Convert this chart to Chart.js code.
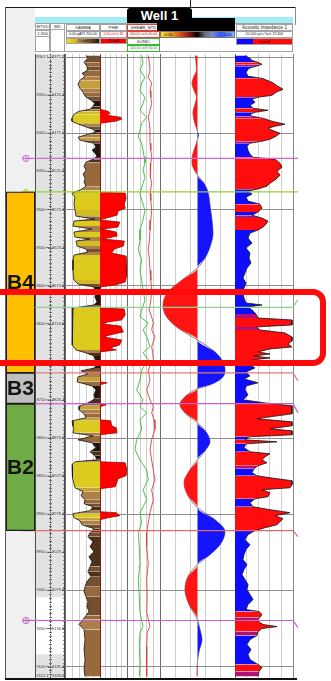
<!DOCTYPE html>
<html>
<head>
<meta charset="utf-8">
<title>Well 1</title>
<script src="https://cdn.jsdelivr.net/npm/chart.js@4.4.1/dist/chart.umd.min.js"></script>
<style>
  html, body { margin:0; padding:0; background:#fff; }
  body { width:331px; height:681px; overflow:hidden; font-family:"Liberation Sans", Arial, sans-serif; }
  #page { position:relative; width:331px; height:681px; overflow:hidden; }
  .abs { position:absolute; box-sizing:border-box; }
  .hd { position:absolute; box-sizing:border-box; border:1px solid #a3a3a3; background:#fff; font-size:4.2px; line-height:5px; text-align:center; color:#222; white-space:nowrap; overflow:hidden; }
  .track { position:absolute; }
  .track canvas { display:block; }
</style>
</head>
<body>
<div id="page">
  <!-- outer frame -->
  <div class="abs" style="left:5px;top:8px;width:30px;height:671px;background:#f0f0f0;"></div>
  <div class="abs" style="left:5px;top:7px;width:291px;height:1px;background:#1a1a1a;"></div>
  <div class="abs" style="left:190px;top:0;width:1px;height:8px;background:#1a1a1a;"></div>
  <div class="abs" style="left:5px;top:7px;width:1px;height:672px;background:#5a5a5a;"></div>
  <div class="abs" style="left:295px;top:7px;width:1px;height:18px;background:#8a8a8a;"></div>

  <!-- track headers -->
  <div class="abs" style="left:35px;top:17px;width:258px;height:6px;background:#a3ebf5;"></div>
  <div class="abs" style="left:35px;top:23px;width:258px;height:29px;border:1px solid #a3a3a3;background:#fff;"></div>

  <div class="hd" style="left:35px;top:23px;width:15px;height:29px;"></div>
  <div class="hd" style="left:35px;top:23px;width:15px;height:7px;">MTVD</div>
  <div class="hd" style="left:35px;top:30px;width:15px;height:7px;">1:200</div>
  <div class="hd" style="left:50px;top:23px;width:15px;height:29px;"></div>
  <div class="hd" style="left:50px;top:23px;width:15px;height:7px;">MD</div>

  <div class="hd" style="left:66px;top:24px;width:34px;height:7px;">GAMMA</div>
  <div class="hd" style="left:66px;top:31px;width:34px;height:7px;font-size:3.6px;">0.00 gAPI 250.00</div>
  <div class="hd" style="left:66px;top:38px;width:34px;height:6px;line-height:4px;background:linear-gradient(90deg,#f3e400 0%,#dcc020 22%,#b68a3c 45%,#7a4c22 70%,#2a1608 100%);">Cutoff</div>

  <div class="hd" style="left:100px;top:24px;width:27px;height:7px;">PHIE</div>
  <div class="hd" style="left:100px;top:31px;width:27px;height:7px;font-size:3.4px;color:#d20000;">0.00 v/v 0.30</div>
  <div class="hd" style="left:100px;top:38px;width:27px;height:6px;line-height:4px;background:#ff0000;color:#400;">Cutoff</div>

  <div class="hd" style="left:127px;top:24px;width:33px;height:7px;border-color:#e04040;">SHEAR_SPD</div>
  <div class="hd" style="left:127px;top:31px;width:33px;height:7px;border-color:#e04040;font-size:3.4px;color:#d20000;">400.00 us/ft 40.00</div>
  <div class="hd" style="left:127px;top:38px;width:33px;height:7px;border-color:#3cb43c;">SONIC</div>
  <div class="hd" style="left:127px;top:45px;width:33px;height:7px;border-color:#3cb43c;font-size:3.4px;color:#1a8a1a;">140.00 us/ft 40.00</div>

  <div class="abs" style="left:157px;top:18px;width:78px;height:13px;background:#000;"></div>
  <div class="hd" style="left:160px;top:31px;width:75px;height:7px;border-color:#777;background:linear-gradient(90deg,#f4e21a 0%,#eea21e 14%,#d2521a 27%,#7a1410 40%,#000 50%,#6a6a6a 60%,#7a8ccc 70%,#2f56ff 82%,#8fb4ff 100%);">
    <span style="position:absolute;left:2px;top:0;">-0.30</span><span style="position:absolute;right:2px;top:0;">0.30</span>
  </div>

  <div class="hd" style="left:236px;top:24px;width:57px;height:7px;font-size:4.6px;">Acoustic impedance 1</div>
  <div class="hd" style="left:236px;top:31px;width:57px;height:7px;font-size:3.6px;">20,000 g/cc*m/s 37,400</div>
  <div class="hd" style="left:236px;top:38px;width:57px;height:7px;background:linear-gradient(90deg,#0a0aff 0 30%,#ff0a0a 30% 100%);color:#300;">Cutoff</div>

  <div class="abs" style="left:127px;top:8px;width:65px;height:15px;background:#000;border-radius:3px 3px 0 0;color:#fff;font-weight:bold;font-size:13px;line-height:15px;text-align:center;">Well 1</div>

  <div id="tracks"></div>

  <div class="abs" style="left:5px;top:678px;width:292px;height:2px;background:#111;"></div>
  <div class="abs" style="left:-20px;top:289px;width:346px;height:77px;border:6px solid #ff0a0a;border-radius:13px;"></div>
</div>

<script>
// ---------------- log data (depth in ft TVD) ----------------
const depthRange = [8296, 9115];
const depthGridLines = [8300, 8400, 8500, 8600, 8700, 8800, 8900, 9000, 9100];

const zoneNames = ['B4', 'B3', 'B2'];
const zoneIntervals = [[8477, 8714.5], [8714.5, 8755], [8755, 8921.6]];

const horizonDepths = [8433, 8477, 8628.5, 8714.5, 8755, 8921.6, 9039.5];
const horizonNextWell = [8433, 8477, 8618, 8725, 8767, 8929.5, 9049];

const depthLabelTicks = [8350, 8400, 8450, 8500, 8550, 8600, 8650, 8700, 8750, 8800, 8850, 8900, 8950, 9000, 9050, 9100];
const mdLabels = ['8420.3', '8471.0', '8521.6', '8572.4', '8623.1', '8673.9', '8724.6', '8775.4', '8826.1', '8876.9', '8927.6', '8978.4', '9029.1', '9079.9', '9130.6', '9181.4'];
const depthEndLabels = [['8301.1', '8371.7'], ['9112.3', '9183.0']];
const depthShading = [[8296, 9009], [9084, 9115]];

// gamma ray, gAPI
const gammaRay = [[8298,150],[8301.7,164],[8306.9,136],[8312.2,157],[8317.4,164],[8321.4,121],[8325.3,143],[8330.5,107],[8335.8,93],[8341,107],[8346.3,129],[8351.5,143],[8356.8,186],[8360.7,214],[8364.6,200],[8368.5,179],[8371.2,100],[8375.1,64],[8380.3,50],[8384.3,50],[8386.9,79],[8390.8,136],[8394.8,200],[8398.7,221],[8401.3,164],[8405.2,93],[8409.2,107],[8413.1,207],[8418.3,221],[8422.3,193],[8426.2,214],[8430.1,229],[8434.1,200],[8438,150],[8443.2,136],[8448.5,150],[8453.7,129],[8459,143],[8464.2,136],[8469.5,150],[8474.7,107],[8478.6,50],[8483.9,71],[8491.7,64],[8500.9,71],[8508.8,79],[8512.7,214],[8515.3,64],[8521.9,57],[8525.8,193],[8529.7,64],[8536.3,71],[8538.9,179],[8541.5,79],[8548.1,86],[8552,150],[8556,164],[8559.9,64],[8566.4,57],[8579.6,57],[8592.7,64],[8597.9,93],[8601.8,207],[8608.4,221],[8614.9,214],[8621.5,229],[8625.4,207],[8629.4,57],[8638.5,50],[8651.6,50],[8664.7,57],[8677.8,50],[8684.4,79],[8688.3,150],[8692.3,207],[8700.1,221],[8708,214],[8711.9,114],[8715.9,164],[8719.8,93],[8726.3,86],[8731.6,193],[8736.8,221],[8743.4,207],[8748.6,214],[8753.9,164],[8757.8,107],[8763,100],[8768.3,136],[8773.5,150],[8777.5,50],[8784,57],[8787.9,64],[8793.2,57],[8797.1,200],[8802.4,93],[8806.3,193],[8812.9,221],[8818.1,179],[8823.3,214],[8828.6,229],[8831.2,71],[8835.1,50],[8844.3,50],[8852.2,57],[8860,64],[8865.3,71],[8870.5,129],[8875.7,114],[8881,143],[8886.2,136],[8890.2,200],[8895.4,179],[8899.3,57],[8904.6,64],[8908.5,107],[8913.8,121],[8919,207],[8924.2,179],[8929.5,164],[8936.1,200],[8942.6,179],[8949.2,207],[8955.7,171],[8962.3,193],[8968.8,179],[8975.4,164],[8982,186],[8988.5,157],[8995.1,143],[9001.6,136],[9008.2,150],[9014.7,164],[9021.3,157],[9027.8,171],[9033.1,150],[9038.3,129],[9044.8,100],[9051.4,136],[9064.5,143],[9077.6,136],[9090.7,143],[9103.8,136],[9113,143]];

// effective porosity, v/v
const phie = [[8298,0],[8368.5,0],[8371.2,0.09],[8373.8,0.11],[8376.4,0.08],[8379,0.23],[8381.7,0.24],[8384.3,0.17],[8386.9,0],[8477.3,0],[8478.6,0.28],[8485.2,0.29],[8493.1,0.27],[8498.3,0.28],[8502.2,0.2],[8507.5,0.19],[8511.4,0.07],[8514,0],[8516.6,0.22],[8523.2,0.2],[8525.8,0.02],[8529.7,0.18],[8535,0.19],[8538.9,0.03],[8541.5,0.27],[8548.1,0.26],[8552,0.16],[8557.3,0.13],[8561.2,0.29],[8573,0.3],[8586.1,0.3],[8595.3,0.28],[8599.2,0.17],[8601.8,0],[8629.4,0],[8630.7,0.27],[8638.5,0.28],[8645.1,0.24],[8647.7,0.09],[8650.3,0.03],[8653,0.23],[8660.8,0.26],[8664.7,0.11],[8667.4,0.04],[8671.3,0.24],[8677.8,0.22],[8681.8,0.11],[8684.4,0.18],[8687,0],[8726.3,0],[8727.6,0.08],[8730.2,0],[8755.1,0],[8756.5,0.07],[8759.1,0],[8776.2,0],[8777.5,0.12],[8784,0.13],[8786.7,0.18],[8793.2,0.19],[8795.8,0],[8831.2,0],[8832.5,0.28],[8841.7,0.3],[8849.5,0.29],[8853.5,0.2],[8857.4,0.19],[8864,0.17],[8866.6,0],[8896.7,0],[8898,0.18],[8902,0.22],[8904.6,0.09],[8907.2,0],[9113,0]];

// compressional slowness (SONIC), us/ft
const sonic = [[8298,95.5],[8308,91.5],[8317,100.6],[8327,85.5],[8334,95.5],[8344,100.6],[8353,85.5],[8361,91.5],[8370,100.6],[8379,80.3],[8387,95.5],[8396,100.6],[8405,105.8],[8413,95.5],[8422,91.5],[8431,88],[8439,85.5],[8448,91.5],[8458,85.5],[8466,91.5],[8479,100.6],[8488,95.5],[8501,85.5],[8514,91.5],[8527,100.6],[8540,100.6],[8553,105.8],[8566,95.5],[8580,100.6],[8593,95.5],[8606,91.5],[8619,85.5],[8632,95.5],[8641,100.6],[8649,75.5],[8658,91.5],[8667,80.3],[8680,70.3],[8688,91.5],[8697,75.5],[8711,95.5],[8724,100.6],[8737,110.6],[8750,91.5],[8759,100.6],[8767,80.3],[8776,100.6],[8789,95.5],[8802,110.6],[8815,115.8],[8829,100.6],[8842,80.3],[8855,75.5],[8868,91.5],[8881,80.3],[8898,100.6],[8911,95.5],[8924,105.8],[8943,102.7],[8964,100.6],[8986,105.8],[9008,102.7],[9029,100.6],[9047,91.5],[9055,100.6],[9074,102.7],[9095,100.6],[9113,102.7]];

// shear slowness (SHEAR_SPD), us/ft
const shear = [[8298,168],[8308,155],[8317,149],[8327,168],[8334,131],[8344,149],[8353,140],[8361,131],[8370,150],[8379,168],[8387,155],[8396,149],[8405,150],[8413,149],[8422,140],[8431,131],[8439,140],[8448,149],[8458,140],[8466,131],[8479,149],[8488,140],[8501,131],[8514,140],[8527,149],[8540,155],[8553,168],[8566,155],[8580,149],[8593,140],[8606,131],[8619,140],[8632,157],[8641,131],[8649,113],[8658,131],[8667,95],[8680,131],[8688,120],[8697,113],[8711,168],[8724,149],[8737,185],[8750,149],[8759,113],[8767,131],[8776,105],[8789,95],[8802,131],[8815,149],[8829,131],[8842,113],[8855,95],[8868,131],[8881,113],[8898,149],[8911,168],[8924,185],[8943,185],[8964,168],[8986,185],[9008,179],[9029,185],[9047,149],[9055,179],[9074,185],[9095,185],[9113,185]];

// synthetic seismic trace amplitude
const seismicTrace = [[8298,-0.016],[8306.9,-0.012],[8317.4,-0.008],[8325.3,-0.028],[8334.5,-0.044],[8343.6,-0.028],[8352.8,-0.008],[8362,-0.02],[8372.5,-0.036],[8383,-0.028],[8393.4,-0.008],[8397.4,0],[8402.6,0.008],[8407.9,0],[8418.3,-0.02],[8428.8,-0.04],[8439.3,-0.044],[8448.5,-0.024],[8455,0],[8465.5,0.052],[8477.3,0.084],[8494.4,0.1],[8514,0.116],[8531.1,0.124],[8549.4,0.1],[8563.8,0.06],[8576.9,0],[8592.7,-0.124],[8608.4,-0.236],[8625.4,-0.276],[8639.8,-0.252],[8655.6,-0.156],[8671.3,0],[8687,0.14],[8700.1,0.204],[8710.6,0.22],[8721.1,0.196],[8730.2,0.1],[8735.5,0],[8744.7,-0.092],[8756.5,-0.14],[8768.3,-0.092],[8780.1,0],[8791.9,0.068],[8805,0.1],[8816.8,0.06],[8828.6,0],[8841.7,-0.06],[8858.7,-0.108],[8875.7,-0.076],[8891.5,0],[8907.2,0.14],[8922.9,0.22],[8940,0.18],[8953.1,0.1],[8966.2,0],[8981.9,-0.076],[8998.9,-0.1],[9018.6,-0.068],[9038.3,0],[9051.4,0.02],[9064.5,0.036],[9080.3,0.012],[9094.7,0],[9103.8,-0.004],[9113,-0.004]];

// acoustic impedance, g/cc*m/s
const impedance = [[8298,23000],[8301.7,24500],[8304.4,25100],[8306.9,26900],[8309.6,28100],[8312.2,26300],[8314.8,24200],[8320,23300],[8325.3,23900],[8327.9,28100],[8333.2,31100],[8338.4,32900],[8342.3,34400],[8346.3,32300],[8350.2,31100],[8352.8,26900],[8355.4,25100],[8359.4,26000],[8363.3,24500],[8367.2,25400],[8369.9,29900],[8372.5,26000],[8375.1,24500],[8377.7,25100],[8380.3,28400],[8384.3,31100],[8388.2,35000],[8390.8,32000],[8393.4,29900],[8396.1,31100],[8400,33500],[8403.9,32300],[8407.9,30500],[8410.5,28100],[8413.1,24500],[8417,23600],[8422.3,23900],[8427.5,24500],[8431.5,25400],[8434.1,32000],[8439.3,33500],[8444.6,34100],[8449.8,32600],[8455,33500],[8460.3,32300],[8465.5,30500],[8469.5,29600],[8473.4,26600],[8476,23900],[8479.9,25100],[8483.9,23300],[8489.1,23900],[8493.1,27500],[8498.3,28100],[8503.5,26900],[8507.5,25100],[8511.4,28100],[8515.3,29900],[8519.3,29300],[8523.2,28400],[8527.1,26900],[8531.1,24500],[8537.6,23900],[8544.2,25100],[8550.7,23300],[8557.3,24500],[8563.8,24200],[8570.4,24800],[8576.9,23600],[8583.5,23000],[8590,22400],[8596.6,23300],[8603.1,22700],[8609.7,22400],[8616.2,22700],[8622.8,23300],[8625.4,28100],[8628,23900],[8632,25100],[8637.2,26300],[8642.5,26900],[8645.1,37100],[8651.6,37100],[8654.3,26300],[8658.2,27500],[8662.1,35000],[8667.4,37100],[8672.6,37100],[8676.6,35900],[8680.5,37100],[8683.1,30500],[8687,26900],[8689.7,30500],[8692.3,25700],[8694.9,30500],[8697.5,25100],[8702.8,23900],[8708,26000],[8713.3,23300],[8718.5,24500],[8722.4,22700],[8727.6,26900],[8731.6,23300],[8736.8,23000],[8743.4,23900],[8749.9,22400],[8753.9,29000],[8757.8,37100],[8763,37100],[8768.3,37100],[8772.2,30500],[8774.8,26600],[8778.8,37100],[8784,37100],[8787.9,30500],[8790.6,37100],[8795.8,37100],[8798.4,24500],[8802.4,23000],[8805,32600],[8807.7,23300],[8812.9,22700],[8818.1,24500],[8820.7,30500],[8824.7,29000],[8828.6,28100],[8832.5,29600],[8836.4,26900],[8840.4,25700],[8845.6,25100],[8849.5,26600],[8852.2,30500],[8856.1,37100],[8861.3,37100],[8865.3,36500],[8867.9,28100],[8871.8,30500],[8877.1,29900],[8879.7,26000],[8884.9,24500],[8890.2,25400],[8894.1,30500],[8898,36500],[8902,32000],[8905.9,34400],[8909.8,33500],[8913.8,32600],[8917.7,29000],[8921.6,26000],[8926.8,23900],[8933.4,23000],[8940,24500],[8946.5,23300],[8953.1,22700],[8959.6,22400],[8966.2,23600],[8972.7,22700],[8979.3,22100],[8985.8,23000],[8992.4,23900],[8998.9,23600],[9005.5,24500],[9012,25400],[9018.6,23900],[9025.1,23300],[9027.8,27200],[9031.7,28100],[9035.6,27500],[9039.5,26600],[9044.8,28400],[9047.5,32600],[9050.1,28100],[9054,26900],[9059.3,26600],[9064.5,24500],[9071.1,23600],[9077.6,24800],[9084.2,23900],[9090.7,24500],[9097.3,26900],[9101.2,28100],[9106.4,27200],[9113,26900]];

// ---------------- styling ----------------
const zoneColors = ['#ffbf00', '#bfbfbf', '#6fac46'];
const horizonColors = ['#cf68cf', '#9acd32', '#92cf92', '#e07c7c', '#c95fc9', '#e06a6a', '#c95fc9'];
const horizonMarkers = [true, true, false, false, false, false, true];

Chart.defaults.font.family = '"Liberation Sans", Arial, sans-serif';

function gammaFill(v) {
  if (v < 68) return '#dccb1e';
  if (v < 85) return '#d2bb28';
  if (v < 105) return '#c6a03a';
  if (v < 130) return '#ad8048';
  if (v < 150) return '#966a3d';
  if (v < 175) return '#74502e';
  if (v < 200) return '#4a311b';
  return '#22160a';
}
function impedanceFill(v) {
  if (v < 26300) return '#0c0cff';
  if (v < 27300) return '#b01276';
  return '#ff0c0c';
}

const TOP = 54, HEIGHT = 624;
function mount(left, width) {
  const wrap = document.createElement('div');
  wrap.className = 'track';
  wrap.style.cssText = `left:${left}px;top:${TOP}px;width:${width}px;height:${HEIGHT}px;`;
  const cv = document.createElement('canvas');
  cv.width = width; cv.height = HEIGHT;
  cv.style.width = width + 'px'; cv.style.height = HEIGHT + 'px';
  wrap.appendChild(cv);
  document.getElementById('tracks').appendChild(wrap);
  return cv;
}

const near = (a, b) => Math.abs(a - b) < 1e-9;

function depthScale(show) {
  return {
    type: 'linear', position: 'left', reverse: true,
    min: depthRange[0], max: depthRange[1],
    display: show,
    ticks: {display: false},
    border: {display: false},
    grid: {drawTicks: false, color: '#8e8e8e', lineWidth: 1},
    afterBuildTicks: s => { s.ticks = depthGridLines.map(value => ({value})); }
  };
}

function trackScale(min, max, reverse, rightEdge) {
  const leftV = reverse ? max : min, rightV = reverse ? min : max;
  return {
    type: 'linear', position: 'top', min, max, reverse,
    ticks: {display: false},
    border: {display: false},
    grid: {
      drawTicks: false, lineWidth: 1,
      color: c => {
        const v = c.tick ? c.tick.value : NaN;
        if (near(v, leftV)) return '#6c6c6c';
        if (near(v, rightV)) return rightEdge ? '#8a8a8a' : 'rgba(0,0,0,0)';
        return '#cfcfcf';
      }
    },
    afterBuildTicks: s => {
      const n = 5;
      s.ticks = Array.from({length: n + 1}, (_, k) => ({value: min + (max - min) * k / n}));
    }
  };
}

// formation tops drawn across a track
const horizonPlugin = {
  id: 'horizons',
  afterDatasetsDraw(chart, args, opts) {
    const {ctx, chartArea: a} = chart;
    const y = chart.scales.y;
    ctx.save();
    ctx.lineWidth = 1.2;
    horizonDepths.forEach((d, i) => {
      const py = y.getPixelForValue(d);
      ctx.strokeStyle = horizonColors[i];
      ctx.beginPath();
      ctx.moveTo(a.left, py);
      ctx.lineTo(a.right, py);
      if (opts.outlet) ctx.lineTo(a.right + opts.outlet, y.getPixelForValue(horizonNextWell[i]));
      ctx.stroke();
    });
    ctx.restore();
  }
};

// zone column: tops with markers beneath the boxes, names on top
const zoneDecor = {
  id: 'zoneDecor',
  beforeDatasetsDraw(chart) {
    const {ctx, chartArea: a} = chart;
    const y = chart.scales.y;
    ctx.save();
    ctx.lineWidth = 1.2;
    horizonDepths.forEach((d, i) => {
      const py = y.getPixelForValue(d);
      ctx.strokeStyle = horizonColors[i];
      ctx.beginPath();
      ctx.moveTo(a.left + 16, py);
      ctx.lineTo(a.right, py);
      ctx.stroke();
      if (horizonMarkers[i]) {
        const cx = a.left + 20, r = i === 1 ? 2.4 : 3.2;
        ctx.lineWidth = 0.9;
        ctx.beginPath(); ctx.arc(cx, py, r, 0, Math.PI * 2); ctx.stroke();
        ctx.beginPath(); ctx.moveTo(cx, py - r); ctx.lineTo(cx, py + r); ctx.stroke();
        ctx.lineWidth = 1.2;
      }
    });
    ctx.restore();
  },
  afterDatasetsDraw(chart) {
    const {ctx} = chart;
    ctx.save();
    ctx.fillStyle = '#141414';
    ctx.font = 'bold 21px "Liberation Sans", Arial, sans-serif';
    ctx.textAlign = 'center';
    ctx.textBaseline = 'middle';
    zoneNames.forEach((name, i) => {
      const bar = chart.getDatasetMeta(i).data[0];
      ctx.fillText(name, bar.x, (bar.y + bar.base) / 2 + 1);
    });
    ctx.restore();
  }
};

// MTVD / MD reference column
const depthColumn = {
  id: 'depthColumn',
  beforeDatasetsDraw(chart) {
    const {ctx, chartArea: a} = chart;
    const y = chart.scales.y;
    ctx.save();
    ctx.fillStyle = '#e2e2e2';
    depthShading.forEach(([t, b]) => {
      const y0 = y.getPixelForValue(t), y1 = y.getPixelForValue(b);
      ctx.fillRect(a.left, y0, a.right - a.left, y1 - y0);
    });
    ctx.restore();
  },
  afterDatasetsDraw(chart) {
    const {ctx, chartArea: a} = chart;
    const y = chart.scales.y;
    const mid = a.left + 15.5, right = a.right - 0.5;
    ctx.save();
    ctx.strokeStyle = '#4a4a4a';
    ctx.lineWidth = 1;
    ctx.beginPath(); ctx.moveTo(a.left + 0.5, a.top); ctx.lineTo(a.left + 0.5, a.bottom); ctx.stroke();
    ctx.beginPath(); ctx.moveTo(right, a.top); ctx.lineTo(right, a.bottom); ctx.stroke();
    ctx.setLineDash([1.5, 1]);
    ctx.beginPath(); ctx.moveTo(mid, a.top); ctx.lineTo(mid, a.bottom); ctx.stroke();
    ctx.setLineDash([]);
    ctx.lineWidth = 0.7;
    for (let d = Math.ceil(depthRange[0] / 5) * 5; d <= depthRange[1]; d += 5) {
      const py = Math.round(y.getPixelForValue(d)) + 0.5;
      const len = d % 50 === 0 ? 2.5 : 1.5;
      ctx.beginPath();
      ctx.moveTo(mid - len, py); ctx.lineTo(mid + len, py);
      ctx.moveTo(right - len, py); ctx.lineTo(right, py);
      ctx.stroke();
    }
    ctx.fillStyle = '#3a3a3a';
    ctx.font = '4px "Liberation Sans", Arial, sans-serif';
    ctx.textBaseline = 'middle';
    depthLabelTicks.forEach((d, i) => {
      const py = y.getPixelForValue(d);
      ctx.fillText(String(d), a.left + 1.5, py);
      ctx.fillText(mdLabels[i], a.left + 17, py);
      ctx.beginPath();
      ctx.moveTo(a.left + 11, py); ctx.lineTo(mid, py);
      ctx.moveTo(a.left + 28, py); ctx.lineTo(right, py);
      ctx.stroke();
    });
    ctx.fillText(depthEndLabels[0][0], a.left + 1.5, a.top + 2.5);
    ctx.fillText(depthEndLabels[0][1], a.left + 17, a.top + 2.5);
    ctx.fillText(depthEndLabels[1][0], a.left + 1.5, a.bottom - 2.5);
    ctx.fillText(depthEndLabels[1][1], a.left + 17, a.bottom - 2.5);
    ctx.restore();
  }
};

function baseOptions(scales, padRight, outlet) {
  return {
    responsive: false, animation: false, events: [],
    indexAxis: 'y',
    layout: {padding: {left: 0, right: padRight || 0, top: 0, bottom: 0}},
    plugins: {legend: {display: false}, tooltip: {enabled: false}, horizons: {outlet: outlet || 0}},
    elements: {point: {radius: 0}},
    scales
  };
}
const toXY = arr => arr.map(([d, v]) => ({x: v, y: d}));

// ---- zone column ----
new Chart(mount(5, 30), {
  type: 'bar',
  data: {
    labels: ['Zone'],
    datasets: zoneNames.map((name, i) => ({
      label: name,
      data: [zoneIntervals[i]],
      backgroundColor: zoneColors[i],
      borderColor: '#1c1c1c',
      borderWidth: 1.3,
      borderSkipped: false,
      barPercentage: 1,
      categoryPercentage: 1,
      grouped: false
    }))
  },
  options: {
    responsive: false, animation: false, events: [],
    layout: {padding: {left: 1}},
    plugins: {legend: {display: false}, tooltip: {enabled: false}},
    scales: {x: {display: false}, y: depthScale(false)}
  },
  plugins: [zoneDecor]
});

// ---- MTVD / MD ----
new Chart(mount(35, 30), {
  type: 'line',
  data: {datasets: []},
  options: baseOptions({x: {type: 'linear', min: 0, max: 1, display: false}, y: depthScale(false)}),
  plugins: [depthColumn, horizonPlugin]
});

// ---- GAMMA ----
new Chart(mount(65, 35), {
  type: 'line',
  data: {datasets: [{
    label: 'GAMMA',
    data: toXY(gammaRay),
    borderColor: '#1b1209', borderWidth: 0.8, tension: 0,
    backgroundColor: '#966a3d',
    fill: {value: 250},
    segment: {backgroundColor: c => gammaFill((c.p0.parsed.x + c.p1.parsed.x) / 2)}
  }]},
  options: baseOptions({x: trackScale(0, 250, false, false), y: depthScale(true)}),
  plugins: [horizonPlugin]
});

// ---- PHIE ----
new Chart(mount(100, 27), {
  type: 'line',
  data: {datasets: [{
    label: 'PHIE',
    data: toXY(phie),
    borderColor: '#8a0000', borderWidth: 0.7, tension: 0,
    backgroundColor: '#ff0000',
    fill: {value: 0}
  }]},
  options: baseOptions({x: trackScale(0, 0.3, false, false), y: depthScale(true)}),
  plugins: [horizonPlugin]
});

// ---- SHEAR_SPD / SONIC ----
const sonicScales = {
  x: trackScale(40, 140, true, false),
  x2: {type: 'linear', axis: 'x', min: 40, max: 400, reverse: true, display: false},
  y: depthScale(true)
};
new Chart(mount(127, 33), {
  type: 'line',
  data: {datasets: [
    {label: 'SHEAR_SPD', data: toXY(shear), xAxisID: 'x2', borderColor: '#e03c3c', borderWidth: 0.9, tension: 0, fill: false},
    {label: 'SONIC', data: toXY(sonic), xAxisID: 'x', borderColor: '#33bb33', borderWidth: 0.9, tension: 0, fill: false}
  ]},
  options: baseOptions(sonicScales),
  plugins: [horizonPlugin]
});

// ---- seismic wiggle (variable area) ----
new Chart(mount(160, 75), {
  type: 'line',
  data: {datasets: [
    {label: 'positive', data: seismicTrace.map(([d, a]) => ({x: Math.max(a, 0), y: d})), borderWidth: 0, borderColor: 'rgba(0,0,0,0)', backgroundColor: '#1414ff', fill: {value: 0}, cubicInterpolationMode: 'monotone'},
    {label: 'negative', data: seismicTrace.map(([d, a]) => ({x: Math.min(a, 0), y: d})), borderWidth: 0, borderColor: 'rgba(0,0,0,0)', backgroundColor: '#ff1414', fill: {value: 0}, cubicInterpolationMode: 'monotone'},
    {label: 'trace', data: toXY(seismicTrace), borderColor: '#3a2a2a', borderWidth: 0.6, fill: false, cubicInterpolationMode: 'monotone'}
  ]},
  options: baseOptions({x: trackScale(-0.3, 0.3, false, false), y: depthScale(true)}),
  plugins: [horizonPlugin]
});

// ---- Acoustic impedance ----
new Chart(mount(235, 65), {
  type: 'line',
  data: {datasets: [{
    label: 'Acoustic impedance 1',
    data: toXY(impedance),
    borderColor: '#141414', borderWidth: 0.8, tension: 0,
    backgroundColor: '#0c0cff',
    fill: {value: 20000},
    segment: {backgroundColor: c => impedanceFill((c.p0.parsed.x + c.p1.parsed.x) / 2)}
  }]},
  options: baseOptions({x: trackScale(20000, 37400, false, true), y: depthScale(true)}, 7, 5),
  plugins: [horizonPlugin]
});
</script>
</body>
</html>
